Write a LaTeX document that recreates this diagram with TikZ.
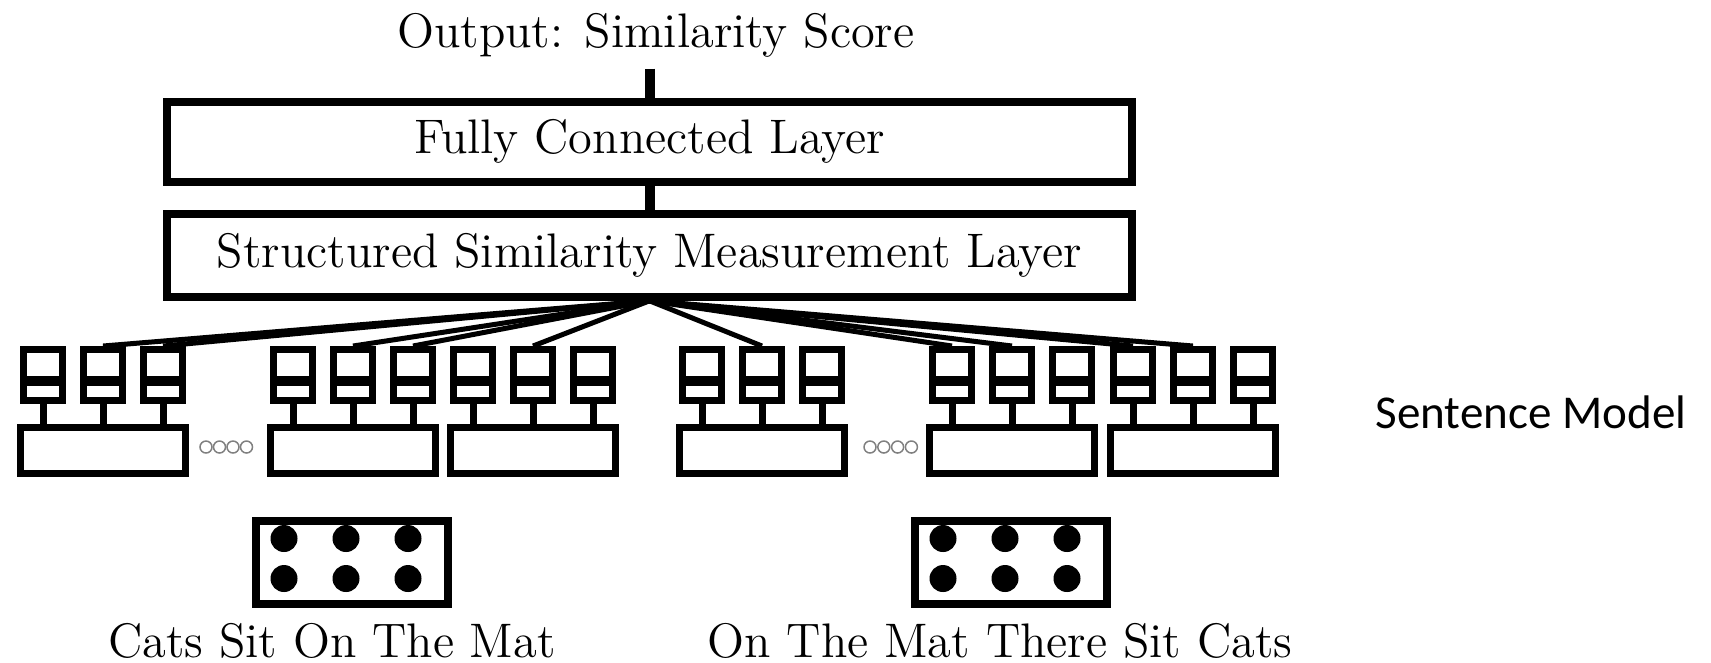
\documentclass[tikz,border=0pt]{standalone}
\usepackage{fontspec}
\newfontfamily\carlito{Carlito}
\usetikzlibrary{positioning}

\tikzset{
  layer/.style={draw,line width=0.8mm,minimum width=96.5mm,inner sep=0pt,font=\fontsize{13.8}{16}\selectfont},
  unit/.style={draw,line width=0.7mm,minimum width=3.9mm,minimum height=5.1mm,inner sep=0pt,
    path picture={\draw[line width=1mm]([yshift=-0.6mm]path picture bounding box.west)--([yshift=-0.6mm]path picture bounding box.east);}},
  pool/.style={draw,line width=0.7mm,minimum width=16.5mm,minimum height=4.6mm,inner sep=0pt},
  embed/.style={draw,line width=0.8mm,minimum width=19.2mm,minimum height=8.3mm,inner sep=0pt},
  stem/.style={line width=0.7mm},
  wire/.style={line width=0.5mm},
  label/.style={anchor=base,inner sep=0pt,font=\fontsize{13.8}{16}\selectfont},
}

\begin{document}
\begin{tikzpicture}[x=0.1mm,y=-0.1mm]
\useasboundingbox (0,0) rectangle (1711,662);
% top layers
\node[label] (score) at (656,47) {Output: Similarity Score};
\node[layer,minimum height=8mm] (fc) at (649.5,141.7) {Fully Connected Layer};
\node[layer,minimum height=8.3mm] (sim) at (649.5,255.3) {Structured Similarity Measurement Layer};
\coordinate[above=2.9mm of fc.north] (out);
\draw[line width=1mm] (out) -- (fc.north);
\draw[line width=1mm] (fc.south) -- (sim.north);
% sentence model blocks
\foreach \g/\cx in {1/103,2/353,3/533,4/762,5/1012,6/1193}{
  \node[pool] (p\g) at (\cx,450.5) {};
  \foreach \u/\dx in {a/-60,b/0,c/60}{
    \node[unit] (u\g\u) at (\cx+\dx,375) {};
    \draw[stem] (u\g\u.south) -- (u\g\u.south |- p\g.north);
  }
}
\foreach \t in {u1b,u1c,u2b,u2c,u3b,u4b,u5a,u5b,u6a,u6b}
  \draw[wire] (sim.south) -- (\t.north);
% dots between blocks
\foreach \i in {0,...,3}{
  \draw[gray,line width=0.15mm] (206+13.5*\i,447) circle (0.6mm);
  \draw[gray,line width=0.15mm] (870+13.8*\i,447) circle (0.6mm);
}
\node[font=\carlito\fontsize{13.4}{16}\selectfont,anchor=base,inner sep=0pt] (model) at (1531,428) {Sentence Model};
% inputs
\node[embed] (e1) at (352,562.5) {};
\node[embed] (e2) at (1011,562.5) {};
\foreach \e in {e1,e2}
  \foreach \dx in {-68,-6,56}
    \foreach \dy in {-24,16}
      \fill ([shift={(\dx,\dy)}]\e.center) circle (1.35mm);
\node[label] (s1) at (332,657) {Cats Sit On The Mat};
\node[label] (s2) at (1000,657) {On The Mat There Sit Cats};
\end{tikzpicture}
\end{document}
